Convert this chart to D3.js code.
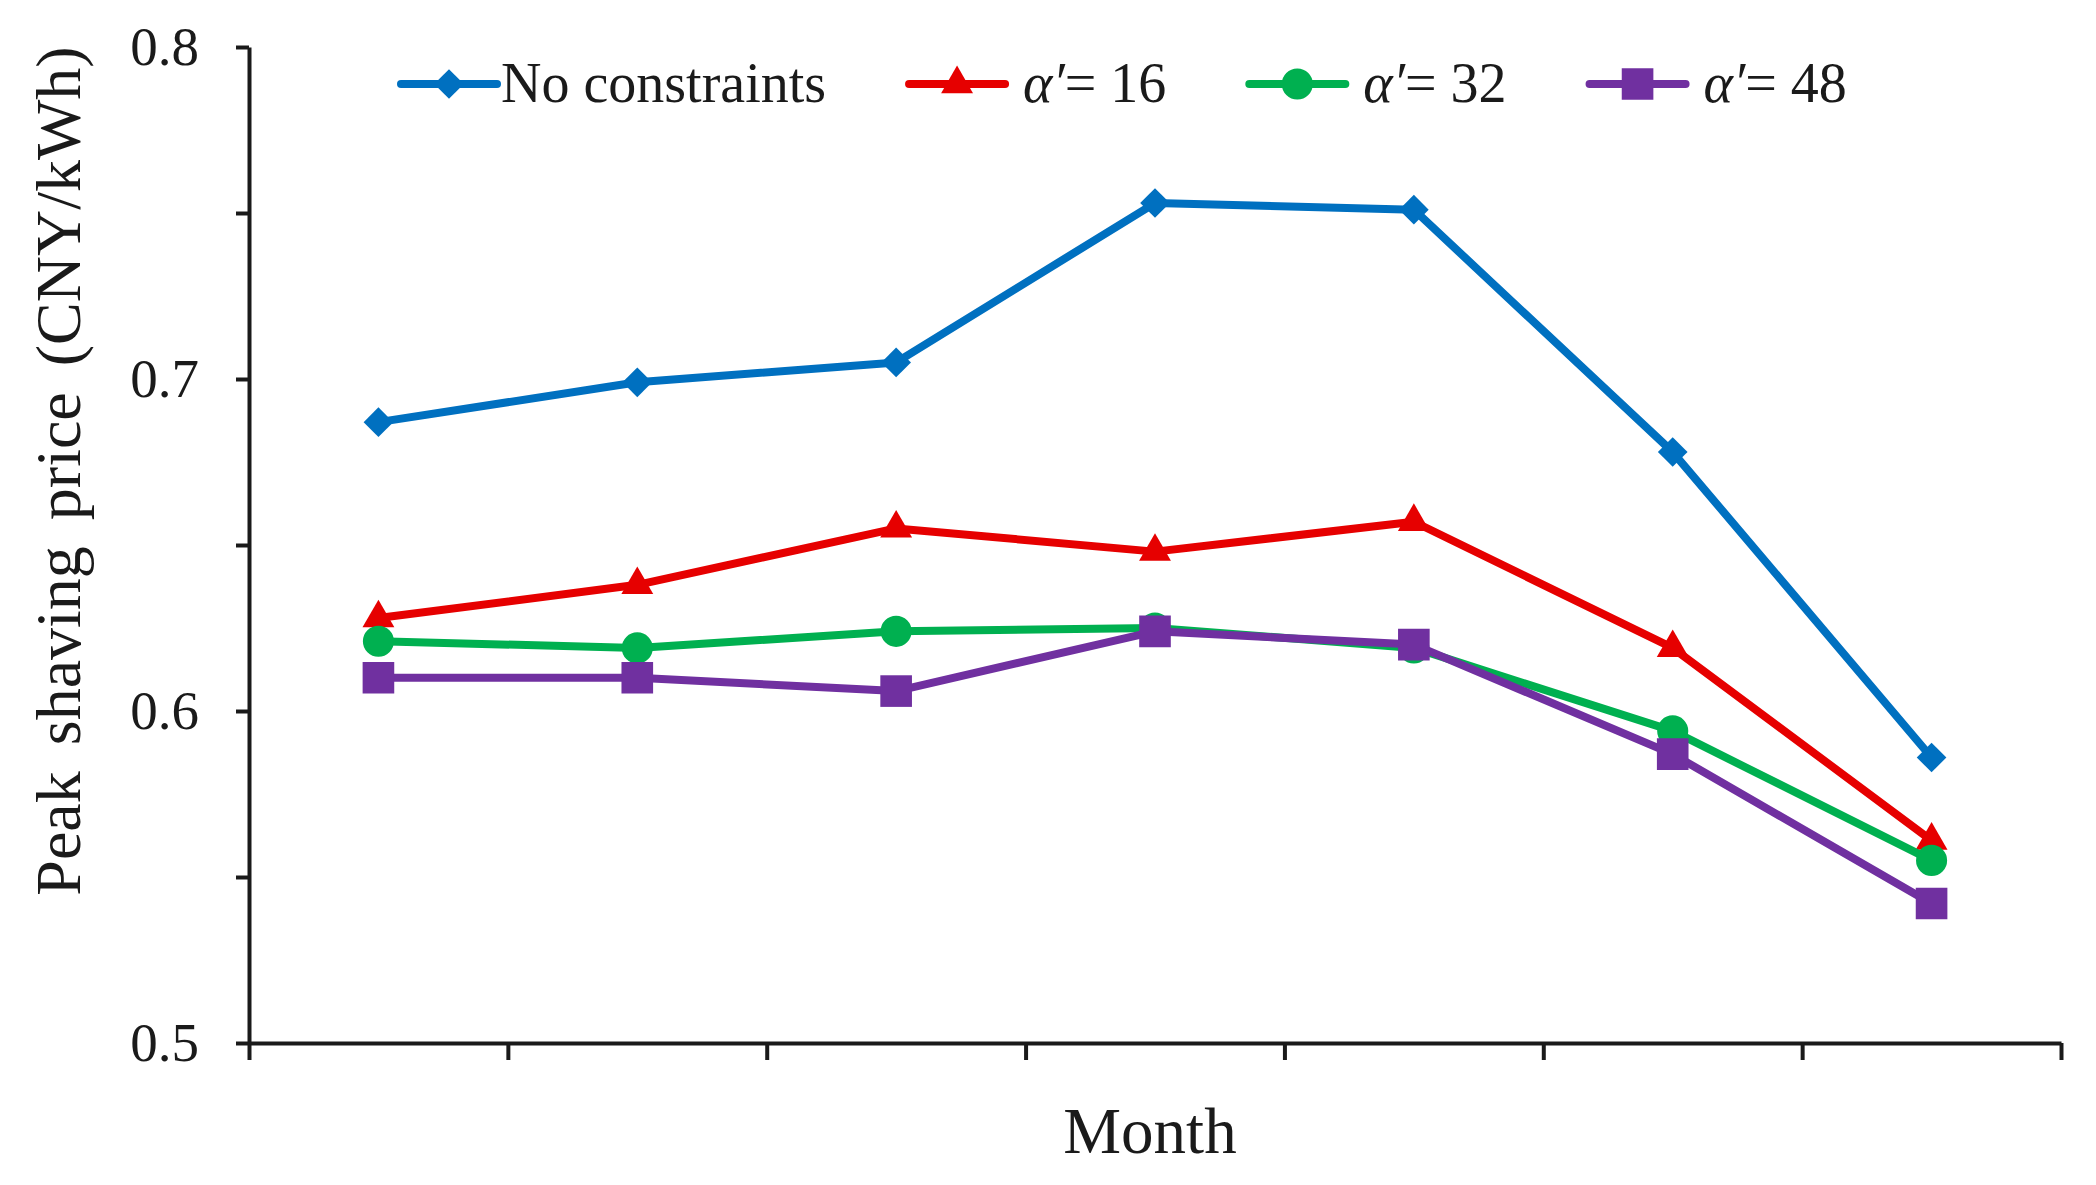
<!DOCTYPE html>
<html>
<head>
<meta charset="utf-8">
<script src="https://cdn.jsdelivr.net/npm/d3@7"></script>
<style>
  body { margin: 0; background: #fff; }
  svg text { font-family: "Liberation Serif", "Times New Roman", serif !important; fill: #1a1a1a; }
</style>
</head>
<body>
<div id="chart"></div>
<script>
// Data (7 months, no tick labels on x)
const months = [1, 2, 3, 4, 5, 6, 7];
const noConstraints = [0.687, 0.699, 0.705, 0.753, 0.751, 0.678, 0.586];
const alpha16 = [0.628, 0.638, 0.655, 0.648, 0.657, 0.619, 0.561];
const alpha32 = [0.621, 0.619, 0.624, 0.625, 0.619, 0.594, 0.555];
const alpha48 = [0.610, 0.610, 0.606, 0.624, 0.620, 0.587, 0.542];
const yTicks = [0.5, 0.55, 0.6, 0.65, 0.7, 0.75, 0.8];

const series = [
  { name: "No constraints", alpha: null, values: noConstraints, color: "#0070C0", shape: "diamond" },
  { name: "16", alpha: true, values: alpha16, color: "#E60000", shape: "triangle" },
  { name: "32", alpha: true, values: alpha32, color: "#00B050", shape: "circle" },
  { name: "48", alpha: true, values: alpha48, color: "#7030A0", shape: "square" }
];

const W = 2096, H = 1185;
const margin = { top: 47, right: 35, bottom: 142, left: 249 };
const width = W - margin.left - margin.right,
  height = H - margin.top - margin.bottom;

const svg = d3.select("#chart")
  .append("svg")
  .attr("width", W)
  .attr("height", H);

const g = svg.append("g")
  .attr("transform", `translate(${margin.left},${margin.top})`);

// scales: x edges at month boundaries, points at the middle
const x = d3.scaleLinear().domain([0, months.length]).range([0, width]);
const y = d3.scaleLinear().domain([0.5, 0.8]).range([height, 0]);

// symbols
function symbolPath(shape) {
  if (shape === "diamond") return d3.symbol().type(d3.symbolSquare).size(440)();
  if (shape === "triangle") return d3.symbol().type(d3.symbolTriangle).size(440)();
  if (shape === "circle") return d3.symbol().type(d3.symbolCircle).size(760)();
  return d3.symbol().type(d3.symbolSquare).size(1000)();
}
function symbolRotate(shape) {
  return shape === "diamond" ? " rotate(45)" : "";
}

// x-axis
const xAxis = g.append("g")
  .attr("transform", `translate(0,${height})`)
  .call(d3.axisBottom(x)
    .tickValues(d3.range(0, months.length + 1))
    .tickFormat("")
    .tickSize(17)
    .tickSizeOuter(0));

// y-axis
const yAxis = g.append("g")
  .call(d3.axisLeft(y)
    .tickValues(yTicks)
    .tickSize(13)
    .tickPadding(37)
    .tickSizeOuter(0)
    .tickFormat(d => (Math.round(d * 100) % 10 === 0) ? d3.format(".1f")(d) : ""));

[xAxis, yAxis].forEach(a => {
  a.attr("font-family", null);
  a.select(".domain").attr("stroke", "#1a1a1a").attr("stroke-width", 4);
  a.selectAll(".tick line").attr("stroke", "#1a1a1a").attr("stroke-width", 4);
});
yAxis.selectAll(".tick text")
  .style("font-size", "55px")
  .attr("fill", "#1a1a1a");

// lines and markers
const line = d3.line()
  .x((d, i) => x(i + 0.5))
  .y(d => y(d));

series.forEach(s => {
  g.append("path")
    .datum(s.values)
    .attr("fill", "none")
    .attr("stroke", s.color)
    .attr("stroke-width", 8)
    .attr("stroke-linejoin", "round")
    .attr("d", line);

  g.selectAll(null)
    .data(s.values)
    .enter()
    .append("path")
    .attr("d", symbolPath(s.shape))
    .attr("fill", s.color)
    .attr("transform", (d, i) => `translate(${x(i + 0.5)},${y(d)})` + symbolRotate(s.shape));
});

// axis titles
svg.append("text")
  .attr("x", margin.left + width / 2 - 5)
  .attr("y", 1153)
  .attr("text-anchor", "middle")
  .style("font-size", "65px")
  .text("Month");

svg.append("text")
  .attr("transform", "translate(80,471) rotate(-90)")
  .attr("text-anchor", "middle")
  .style("font-size", "64px")
  .style("word-spacing", "10px")
  .text("Peak shaving price (CNY/kWh)");

// legend
const legend = svg.append("g").attr("transform", "translate(0,84)");
let lx = 401;
series.forEach(s => {
  const item = legend.append("g").attr("transform", `translate(${lx},0)`);
  item.append("line")
    .attr("x1", 0).attr("x2", 96)
    .attr("stroke", s.color)
    .attr("stroke-width", 8)
    .attr("stroke-linecap", "round");
  item.append("path")
    .attr("d", symbolPath(s.shape))
    .attr("fill", s.color)
    .attr("transform", "translate(48,0)" + symbolRotate(s.shape));

  const t = item.append("text")
    .attr("x", s.alpha ? 114 : 100)
    .attr("y", 18)
    .style("font-size", "56px");
  if (s.alpha) {
    t.append("tspan").style("font-style", "italic").text("α′");
    t.append("tspan").text("= " + s.name);
  } else {
    t.text(s.name);
  }
  const tw = t.node().getComputedTextLength();
  lx += (s.alpha ? 114 : 100) + tw + 83;
});
</script>
</body>
</html>
